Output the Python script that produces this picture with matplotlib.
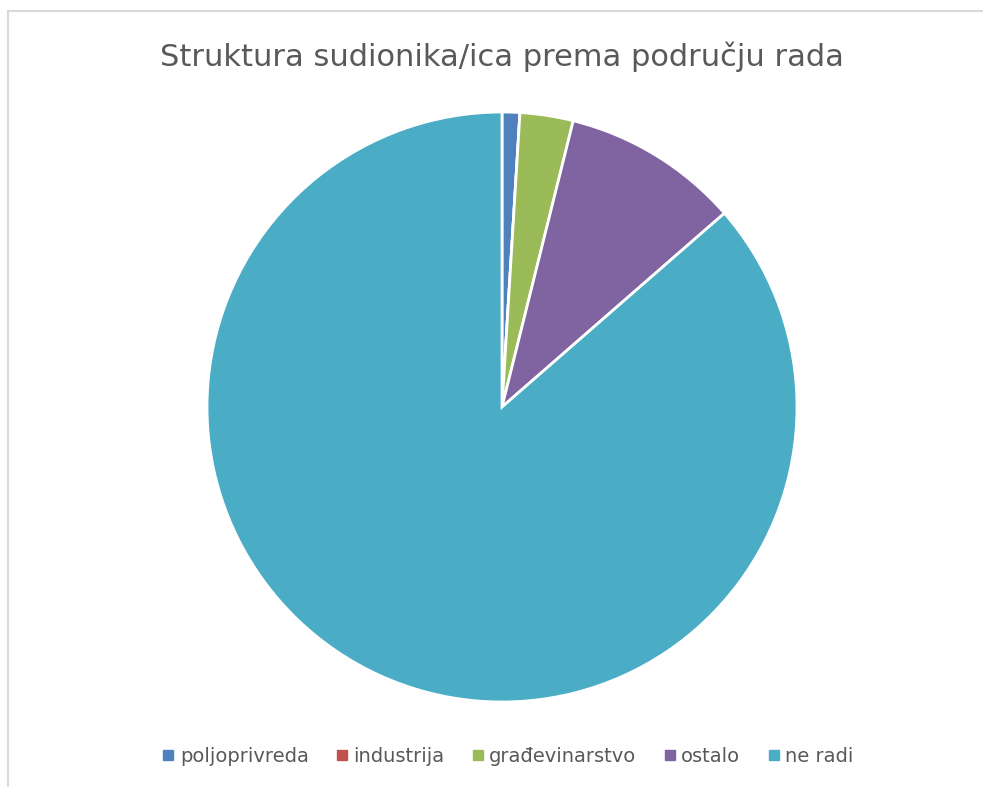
#!/usr/bin/env python3

import matplotlib
matplotlib.use("Agg")
import matplotlib.pyplot as plt
from matplotlib.lines import Line2D

categories = ["poljoprivreda", "industrija", "građevinarstvo", "ostalo", "ne radi"]
values = [1, 0, 3, 10, 89]
colors = ["#4F81BD", "#C0504D", "#9BBB59", "#8064A2", "#4BACC6"]
title = "Struktura sudionika/ica prema području rada"

plt.rcParams["font.family"] = ["DejaVu Sans"]

fig = plt.figure(figsize=(9.83, 7.87), dpi=100)

# light grey chart frame (left and top edges visible)
fig.add_artist(Line2D([8 / 983, 8 / 983], [0, 1 - 11 / 787], color="#D9D9D9", lw=1.5))
fig.add_artist(Line2D([8 / 983, 1], [1 - 11 / 787, 1 - 11 / 787], color="#D9D9D9", lw=1.5))

cx, cy, r = 502, 407, 295
ax = fig.add_axes([(cx - r) / 983, (787 - cy - r) / 787, 2 * r / 983, 2 * r / 787])
wedges, _ = ax.pie(values, colors=colors, startangle=90, counterclock=False,
                   wedgeprops=dict(edgecolor="white", linewidth=2))
ax.set_xlim(-1, 1)
ax.set_ylim(-1, 1)
ax.set_aspect("equal")
ax.axis("off")

fig.text(cx / 983, 1 - 57 / 787, title, ha="center", va="center",
         fontsize=22, color="#595959")

handles = [plt.Line2D([], [], marker="s", ls="", color=c, markersize=7) for c in colors]
fig.legend(handles, categories, loc="center", bbox_to_anchor=(507 / 983, 1 - 756 / 787),
           ncol=5, frameon=False, fontsize=14, labelcolor="#595959",
           handletextpad=0.2, columnspacing=1.3, handlelength=0.8)

fig.savefig("out.png", dpi=100, facecolor="white")
